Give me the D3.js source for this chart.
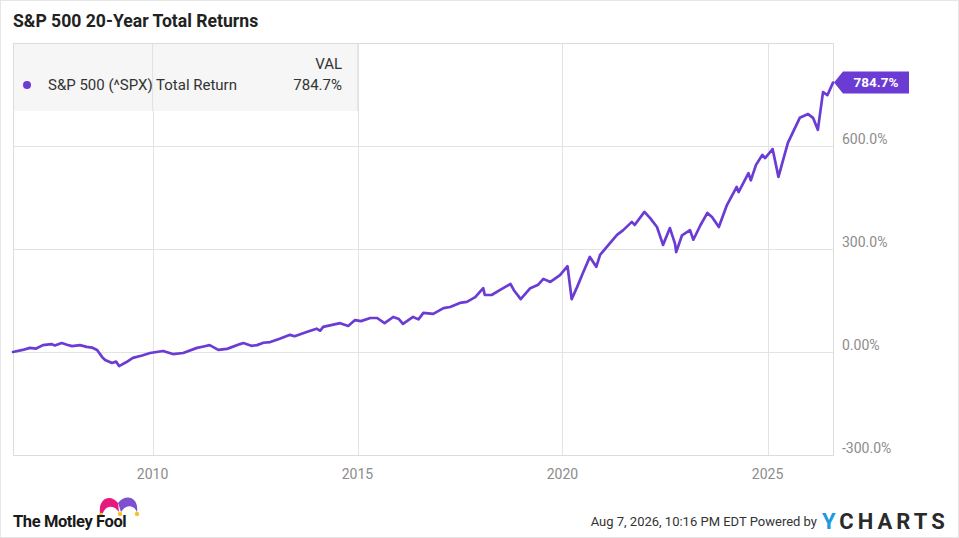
<!DOCTYPE html>
<html>
<head>
<meta charset="utf-8">
<script src="https://cdn.jsdelivr.net/npm/d3@7"></script>
<style>
  html, body { margin: 0; padding: 0; background: #fff; }
  svg { display: block; font-family: Roboto, "Noto Sans", Arial, sans-serif; }
</style>
</head>
<body>
<svg id="chart" width="959" height="538"></svg>
<script>
// ---- Data ----
const title = "S&P 500 20-Year Total Returns";
const seriesName = "S&P 500 (^SPX) Total Return";
const lastValueLabel = "784.7%";
const dates = [
  "2006-08-07","2006-11-01","2007-01-05","2007-03-01","2007-05-01","2007-07-15","2007-08-15","2007-10-15",
  "2007-12-01","2008-01-15","2008-03-25","2008-05-25","2008-07-10","2008-08-25","2008-10-10","2008-11-05",
  "2009-01-05","2009-02-10","2009-03-09","2009-05-10","2009-07-10","2009-10-01","2009-12-10","2010-04-05",
  "2010-07-01","2010-10-01","2011-02-01","2011-04-01","2011-05-25","2011-08-10","2011-10-25","2011-11-20",
  "2012-02-20","2012-03-20","2012-05-30","2012-07-20","2012-09-15","2012-11-15","2013-02-01","2013-05-10",
  "2013-06-20","2013-10-05","2014-01-01","2014-02-03","2014-03-01","2014-07-30","2014-10-10","2014-12-10",
  "2015-02-01","2015-04-25","2015-06-25","2015-08-30","2015-11-15","2016-01-05","2016-02-10","2016-05-10",
  "2016-06-27","2016-08-10","2016-11-05","2017-02-05","2017-04-05","2017-07-01","2017-09-01","2017-11-15",
  "2018-01-25","2018-02-08","2018-04-10","2018-06-25","2018-09-25","2018-10-25","2018-12-25","2019-03-20",
  "2019-05-30","2019-07-15","2019-09-15","2019-12-10","2020-02-15","2020-03-23","2020-05-10","2020-07-01",
  "2020-09-01","2020-10-28","2020-12-01","2021-03-01","2021-05-01","2021-06-25","2021-09-10","2021-10-05",
  "2021-12-31","2022-02-20","2022-04-22","2022-06-15","2022-08-15","2022-09-30","2022-10-10","2022-12-01",
  "2023-02-10","2023-03-12","2023-05-15","2023-07-15","2023-08-25","2023-10-25","2024-01-05","2024-04-01",
  "2024-04-18","2024-07-15","2024-08-05","2024-09-20","2024-11-15","2024-12-10","2025-02-15","2025-04-08",
  "2025-07-01","2025-10-15","2025-12-28","2026-02-10","2026-03-25","2026-05-10","2026-06-18","2026-08-07"
];
const values = [
  0, 6, 12, 10, 20, 23, 19, 26,
  21, 17, 20, 15, 13, 6, -15, -23,
  -32, -28, -41, -30, -17, -10, -3, 3,
  -6, -3, 12, 16, 20, 6, 9, 12,
  23, 26, 18, 20, 27, 29, 38, 50,
  46, 58, 68, 62, 73, 84, 76, 93,
  90, 99, 99, 84, 102, 96, 82, 102,
  95, 114, 111, 128, 131, 143, 146, 160,
  186, 166, 166, 181, 198, 180, 154, 186,
  196, 213, 204, 224, 250, 154, 189, 230,
  277, 248, 283, 318, 341, 355, 379, 370,
  408, 390, 364, 312, 361, 315, 291, 340,
  355, 327, 370, 405, 393, 364, 428, 481,
  466, 521, 500, 545, 574, 565, 591, 510,
  609, 682, 693, 682, 647, 757, 748, 784.7
];
const yTicks = [-300, 0, 300, 600];
const yTickLabels = ["-300.0%", "0.00%", "300.0%", "600.0%"];
const xTicks = ["2010-01-01", "2015-01-01", "2020-01-01", "2025-01-01"];
const xTickLabels = ["2010", "2015", "2020", "2025"];
const footerText = "Aug 7, 2026, 10:16 PM EDT Powered by";

// ---- Setup ----
const svg = d3.select("#chart");
const W = 959, H = 538;
const parse = d3.timeParse("%Y-%m-%d");
const data = dates.map((d, i) => ({ date: parse(d), value: values[i] }));

const plot = { left: 13, right: 833, top: 43, bottom: 455 };
const x = d3.scaleTime()
  .domain([parse("2006-08-07"), parse("2026-08-07")])
  .range([plot.left, plot.right]);
const y = d3.scaleLinear().domain([-300, 900]).range([plot.bottom, plot.top]);

const purple = "#6a3cd4";
const grid = "#e3e3e3";

// outer border
svg.append("rect").attr("x", 0.5).attr("y", 0.5).attr("width", W - 1).attr("height", H - 1)
  .attr("fill", "#fff").attr("stroke", "#e6e6e6");

// title
svg.append("text").attr("x", 13).attr("y", 27)
  .attr("font-size", 17.6).attr("font-weight", 700).attr("fill", "#222")
  .text(title);

// gridlines horizontal
svg.append("g").selectAll("line").data(yTicks).join("line")
  .attr("x1", plot.left).attr("x2", plot.right)
  .attr("y1", d => Math.round(y(d)) + 0.5).attr("y2", d => Math.round(y(d)) + 0.5)
  .attr("stroke", grid).attr("stroke-width", 1);

// gridlines vertical
svg.append("g").selectAll("line").data(xTicks).join("line")
  .attr("x1", d => Math.round(x(parse(d))) + 0.5).attr("x2", d => Math.round(x(parse(d))) + 0.5)
  .attr("y1", plot.top).attr("y2", plot.bottom)
  .attr("stroke", grid).attr("stroke-width", 1);

// frame
svg.append("rect").attr("x", plot.left + 0.5).attr("y", plot.top + 0.5)
  .attr("width", plot.right - plot.left).attr("height", plot.bottom - plot.top)
  .attr("fill", "none").attr("stroke", "#dcdcdc");

// legend box
const lg = svg.append("g");
lg.append("rect").attr("x", plot.left + 1).attr("y", plot.top + 1).attr("width", 343).attr("height", 67)
  .attr("fill", "#f5f5f5").attr("fill-opacity", 0.9);
lg.append("line").attr("x1", 357.5).attr("x2", 357.5).attr("y1", plot.top + 1).attr("y2", plot.top + 68)
  .attr("stroke", "#e6e6e6");
lg.append("line").attr("x1", 152.5).attr("x2", 152.5).attr("y1", plot.top + 1).attr("y2", plot.top + 68)
  .attr("stroke", "#e3e3e3");
lg.append("circle").attr("cx", 27).attr("cy", 85).attr("r", 4).attr("fill", purple);
lg.append("text").attr("x", 48).attr("y", 90).attr("font-size", 15).attr("fill", "#333").text(seriesName);
lg.append("text").attr("x", 342).attr("y", 69).attr("text-anchor", "end").attr("font-size", 15).attr("fill", "#333").text("VAL");
lg.append("text").attr("x", 342).attr("y", 90).attr("text-anchor", "end").attr("font-size", 15).attr("fill", "#333").text(lastValueLabel);

// line
const line = d3.line().x(d => x(d.date)).y(d => y(d.value)).curve(d3.curveLinear);
svg.append("path").datum(data).attr("d", line)
  .attr("fill", "none").attr("stroke", purple).attr("stroke-width", 2.7)
  .attr("stroke-linejoin", "round").attr("stroke-linecap", "round");

// y tick labels
svg.append("g").selectAll("text").data(yTicks).join("text")
  .attr("x", 842).attr("y", d => y(d) - 7).attr("dy", "0.35em")
  .attr("font-size", 14).attr("fill", "#8c8c8c")
  .text((d, i) => yTickLabels[i]);

// x tick labels
svg.append("g").selectAll("text").data(xTicks).join("text")
  .attr("x", d => x(parse(d))).attr("y", 479)
  .attr("text-anchor", "middle").attr("font-size", 14).attr("fill", "#8c8c8c")
  .text((d, i) => xTickLabels[i]);

// end value tag
const last = data[data.length - 1];
const ty = y(last.value);
const tx = x(last.date) + 1;
svg.append("path")
  .attr("d", `M${tx},${ty} L${tx + 9},${ty - 11} L${tx + 75},${ty - 11} L${tx + 75},${ty + 11} L${tx + 9},${ty + 11} Z`)
  .attr("fill", purple);
svg.append("text").attr("x", tx + 42).attr("y", ty).attr("dy", "0.36em")
  .attr("text-anchor", "middle").attr("font-size", 13.5).attr("font-weight", 700).attr("fill", "#fff")
  .text(lastValueLabel);

// Motley Fool logo
const mf = svg.append("g");
mf.append("path").attr("d", "M100,513 C98,499 110,493 118,503 L119,512 C114,505 106,505 103,513 Z").attr("fill", "#e8197d");
mf.append("path").attr("d", "M118,503 C126,493 139,497 137,512 C134,505 126,504 121,512 Z").attr("fill", "#7e4fd0");
mf.append("circle").attr("cx", 101).attr("cy", 515).attr("r", 2.2).attr("fill", "#f2c32c");
mf.append("circle").attr("cx", 120).attr("cy", 514).attr("r", 2.2).attr("fill", "#f2c32c");
mf.append("circle").attr("cx", 137).attr("cy", 514).attr("r", 2.2).attr("fill", "#f2c32c");
mf.append("text").attr("x", 13).attr("y", 527).attr("font-size", 16.5).attr("font-weight", 700)
  .attr("fill", "#1a1a1a").attr("letter-spacing", -0.4).text("The Motley Fool");

// footer
svg.append("text").attr("x", 817).attr("y", 526).attr("text-anchor", "end")
  .attr("font-size", 13).attr("fill", "#333").text(footerText);
const yc = svg.append("text").attr("x", 822).attr("y", 529).attr("font-size", 22).attr("font-weight", 700)
  .attr("letter-spacing", 4);
yc.append("tspan").attr("fill", "#1a9be0").text("Y");
yc.append("tspan").attr("fill", "#2a2a2a").text("CHARTS");
</script>
</body>
</html>
